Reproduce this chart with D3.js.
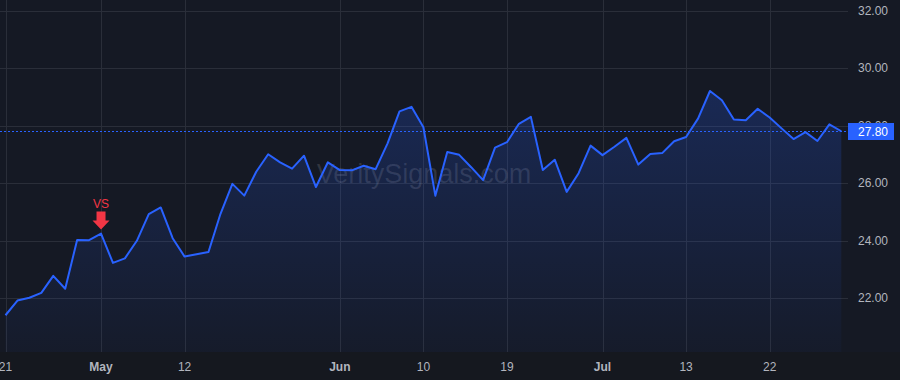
<!DOCTYPE html>
<html>
<head>
<meta charset="utf-8">
<script src="https://cdn.jsdelivr.net/npm/d3@7"></script>
<style>
  html, body { margin: 0; padding: 0; background: #151924; }
  svg { display: block; font-family: "Liberation Sans", Arial, sans-serif; }
</style>
</head>
<body>
<script>
// daily closes, one per bar (bar index = position in array)
var closes = [
  21.40, 21.91, 22.01, 22.18, 22.77, 22.32, 24.02, 24.01, 24.24, 23.22,
  23.38, 23.99, 24.92, 25.15, 24.08, 23.44, 23.52, 23.60, 24.92, 25.97,
  25.56, 26.39, 27.00, 26.72, 26.50, 26.95, 25.86, 26.72, 26.45, 26.44,
  26.60, 26.48, 27.38, 28.49, 28.65, 27.94, 25.56, 27.08, 26.98, 26.55,
  26.10, 27.23, 27.42, 28.06, 28.30, 26.45, 26.81, 25.69, 26.34, 27.30,
  26.97, 27.26, 27.57, 26.64, 27.01, 27.04, 27.45, 27.60, 28.24, 29.20,
  28.88, 28.21, 28.18, 28.58, 28.28, 27.90, 27.53, 27.77, 27.46, 28.04,
  27.80
];
var tickIdx = [0, 8, 15, 28, 35, 42, 50, 57, 64];
var tickLabels = ["21", "May", "12", "Jun", "10", "19", "Jul", "13", "22"];
var priceTicks = [22, 24, 26, 28, 30, 32];
var markerIdx = [8];
var markerText = ["VS"];
var lastPrice = 27.80;
var watermark = "VeritySignals.com";

var W = 900, H = 380;
var plotW = 848, plotH = 352;

var svg = d3.select("body").append("svg").attr("width", W).attr("height", H);

var x = d3.scaleLinear().domain([0, closes.length - 1]).range([5.5, 841.3]);
var y = d3.scaleLinear().domain([22, 32]).range([298, 10.5]);

svg.append("rect").attr("width", W).attr("height", H).attr("fill", "#151924");
svg.append("rect").attr("y", plotH).attr("width", W).attr("height", H - plotH).attr("fill", "#15181f");

var defs = svg.append("defs");
var grad = defs.append("linearGradient").attr("id", "fillGrad")
  .attr("gradientUnits", "userSpaceOnUse")
  .attr("x1", 0).attr("x2", 0).attr("y1", 90).attr("y2", plotH);
grad.append("stop").attr("offset", 0).attr("stop-color", "#2962ff").attr("stop-opacity", 0.22);
grad.append("stop").attr("offset", 1).attr("stop-color", "#2962ff").attr("stop-opacity", 0.03);

// grid
var grid = svg.append("g");
grid.selectAll("line.h").data(priceTicks).enter().append("line")
  .attr("x1", 0).attr("x2", plotW)
  .attr("y1", function (d) { return Math.round(y(d)) + 0.5; })
  .attr("y2", function (d) { return Math.round(y(d)) + 0.5; })
  .attr("stroke", "#2a2e39").attr("stroke-width", 1);
grid.selectAll("line.v").data(tickIdx).enter().append("line")
  .attr("x1", function (d) { return Math.round(x(d)) + 0.5; })
  .attr("x2", function (d) { return Math.round(x(d)) + 0.5; })
  .attr("y1", 0).attr("y2", plotH)
  .attr("stroke", "#2a2e39").attr("stroke-width", 1);

// watermark
svg.append("text").attr("x", plotW / 2).attr("y", 183)
  .attr("text-anchor", "middle").attr("font-size", 27)
  .attr("fill", "#ffffff").attr("fill-opacity", 0.13)
  .text(watermark);

// area + line
var area = d3.area()
  .x(function (d, i) { return x(i); })
  .y0(plotH)
  .y1(function (d) { return y(d); });
svg.append("path").datum(closes).attr("d", area).attr("fill", "url(#fillGrad)");

var line = d3.line()
  .x(function (d, i) { return x(i); })
  .y(function (d) { return y(d); });
svg.append("path").datum(closes).attr("d", line)
  .attr("fill", "none").attr("stroke", "#2962ff").attr("stroke-width", 2)
  .attr("stroke-linejoin", "round");

// last price line
svg.append("line")
  .attr("x1", 0).attr("x2", plotW)
  .attr("y1", Math.round(y(lastPrice)) + 0.5).attr("y2", Math.round(y(lastPrice)) + 0.5)
  .attr("stroke", "#2962ff").attr("stroke-width", 1).attr("stroke-dasharray", "2,2");

// markers (arrow down above the bar)
markerIdx.forEach(function (mi, k) {
  var cx = x(mi), tip = y(closes[mi]) - 4;
  var g = svg.append("g").attr("fill", "#f23645");
  g.append("path").attr("d",
    "M" + (cx - 4.5) + "," + (tip - 18) +
    "L" + (cx + 4.5) + "," + (tip - 18) +
    "L" + (cx + 4.5) + "," + (tip - 9) +
    "L" + (cx + 8.5) + "," + (tip - 9) +
    "L" + cx + "," + tip +
    "L" + (cx - 8.5) + "," + (tip - 9) +
    "L" + (cx - 4.5) + "," + (tip - 9) + "Z");
  g.append("text").attr("x", cx).attr("y", tip - 22)
    .attr("text-anchor", "middle").attr("font-size", 12)
    .text(markerText[k]);
});

// price axis
var pa = svg.append("g");
pa.selectAll("text").data(priceTicks).enter().append("text")
  .attr("x", 858).attr("y", function (d) { return y(d); })
  .attr("dy", "0.35em").attr("font-size", 12).attr("fill", "#b2b5be")
  .text(function (d) { return d3.format(".2f")(d); });

var ly = Math.round(y(lastPrice));
svg.append("rect").attr("x", plotW).attr("y", ly - 8).attr("width", 46).attr("height", 17)
  .attr("fill", "#2962ff");
svg.append("text").attr("x", 858).attr("y", ly + 0.5).attr("dy", "0.35em")
  .attr("font-size", 12).attr("fill", "#ffffff").text(d3.format(".2f")(lastPrice));

// time axis
var ta = svg.append("g");
ta.selectAll("text").data(tickIdx).enter().append("text")
  .attr("x", function (d) { return x(d); })
  .attr("y", 371)
  .attr("text-anchor", "middle").attr("font-size", 12)
  .attr("fill", "#b2b5be")
  .attr("font-weight", function (d, i) { return isNaN(+tickLabels[i]) ? "bold" : "normal"; })
  .text(function (d, i) { return tickLabels[i]; });
</script>
</body>
</html>
